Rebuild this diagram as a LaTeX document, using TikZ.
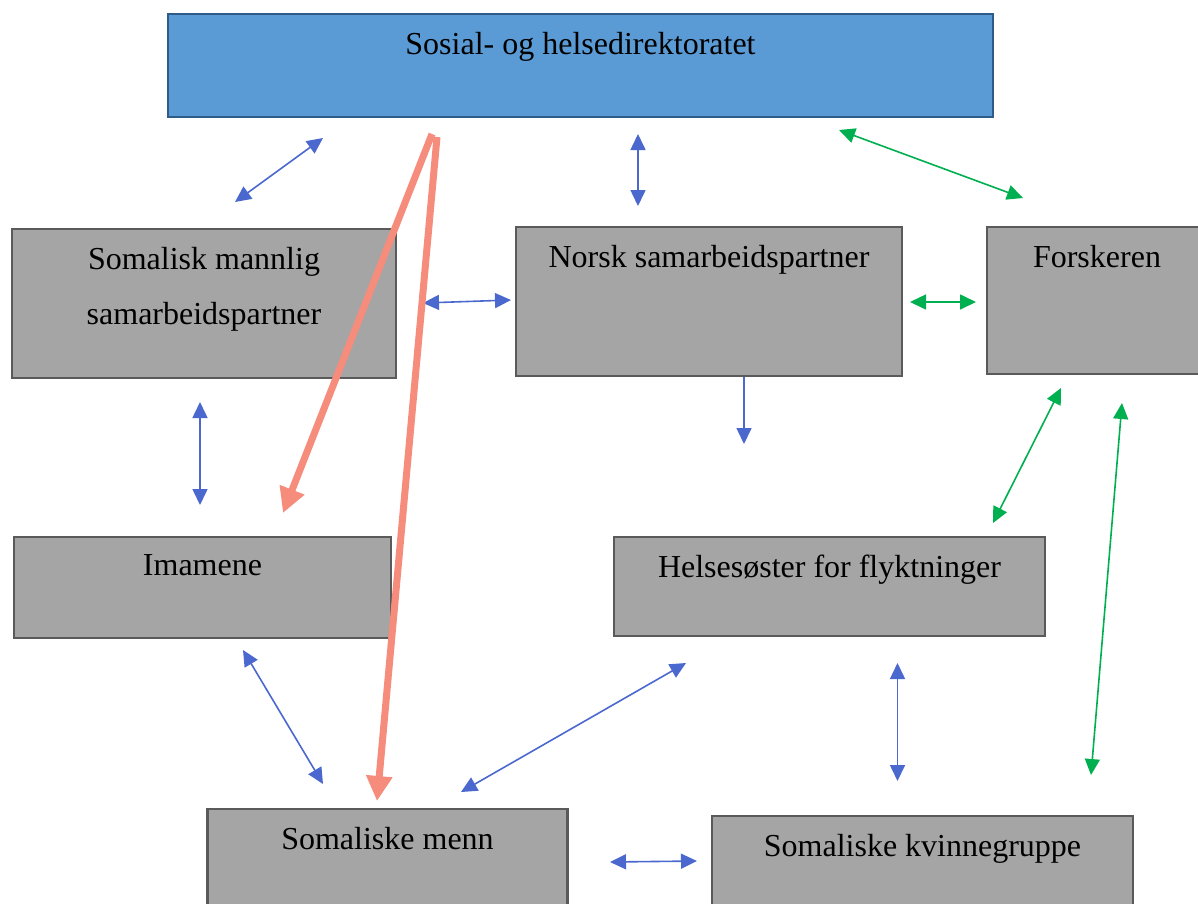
\documentclass[tikz,border=0pt]{standalone}
\usepackage{fontspec}
\setmainfont{Liberation Serif}
\usetikzlibrary{arrows.meta}

\definecolor{dirfyll}{HTML}{5B9BD5}
\definecolor{dirkant}{HTML}{2E5B88}
\definecolor{boksfyll}{HTML}{A5A5A5}
\definecolor{bokskant}{HTML}{5A5A5A}
\definecolor{blaa}{HTML}{4B68CE}
\definecolor{groenn}{HTML}{00B050}
\definecolor{laks}{HTML}{F58C7C}

\begin{document}
\begin{tikzpicture}[x=1pt, y=-1pt,
    boks/.style = {draw=bokskant, fill=boksfyll, line width=2.5pt, inner sep=0pt},
    tekst/.style = {anchor=north, yshift=-19pt, inner sep=0pt, align=center, font=\fontsize{32}{55}\selectfont},
    blaapil/.style = {{Triangle[length=16pt,width=15pt]}-{Triangle[length=16pt,width=15pt]}, draw=blaa, line width=1.6pt},
    blaaenkel/.style = {-{Triangle[length=16pt,width=15pt]}, draw=blaa, line width=1.6pt},
    groennpil/.style = {{Triangle[length=16pt,width=15pt]}-{Triangle[length=16pt,width=15pt]}, draw=groenn, line width=1.6pt},
    lakspil/.style = {-{Triangle[length=25pt,width=25pt]}, draw=laks, line width=7pt}]
    \useasboundingbox (0,0) rectangle (1198,903);
    % boksene
    \node[boks, draw=dirkant, fill=dirfyll, minimum width=825pt, minimum height=103pt,
        label={[tekst]north:Sosial- og helsedirektoratet}] (dir) at (580.5,65.5) {};
    \node[boks, minimum width=384pt, minimum height=149pt,
        label={[tekst]north:Somalisk mannlig\\samarbeidspartner}] (somsam) at (204,303.5) {};
    \node[boks, minimum width=386pt, minimum height=149pt,
        label={[tekst]north:Norsk samarbeidspartner}] (norsk) at (709,301.5) {};
    \node[boks, minimum width=220pt, minimum height=147pt,
        label={[tekst]north:Forskeren}] (forsker) at (1097,300.5) {};
    \node[boks, minimum width=377pt, minimum height=101pt,
        label={[tekst]north:Imamene}] (imam) at (202.5,587.5) {};
    \node[boks, minimum width=431pt, minimum height=99pt,
        label={[tekst]north:Helsesøster for flyktninger}] (helse) at (829.5,586.5) {};
    \node[boks, minimum width=360pt, minimum height=100pt,
        label={[tekst]north:Somaliske menn}] (menn) at (387.5,859) {};
    \node[boks, minimum width=421pt, minimum height=100pt,
        label={[tekst]north:Somaliske kvinnegruppe}] (kvinne) at (922.5,866) {};

    % endepunkter for pilene
    \coordinate (p1a) at (235,202);  \coordinate (p1b) at (323,138);
    \coordinate (p2a) at (638,134);  \coordinate (p2b) at (638,206);
    \coordinate (p3a) at (839,130);  \coordinate (p3b) at (1023,198);
    \coordinate (p4a) at (423,303);  \coordinate (p4b) at (511,300);
    \coordinate (p5a) at (910,302);  \coordinate (p5b) at (976,302);
    \coordinate (p6a) at (744,377);  \coordinate (p6b) at (744,444);
    \coordinate (p7a) at (200,402);  \coordinate (p7b) at (200,505);
    \coordinate (p8a) at (1061,388); \coordinate (p8b) at (993,523);
    \coordinate (p9a) at (1122,403); \coordinate (p9b) at (1091,775);
    \coordinate (p10a) at (243,650); \coordinate (p10b) at (323,784);
    \coordinate (p11a) at (686,663); \coordinate (p11b) at (461,792);
    \coordinate (p12a) at (897.5,663); \coordinate (p12b) at (897.5,781);
    \coordinate (p13a) at (610,862); \coordinate (p13b) at (697,861);
    \coordinate (l1) at (432,134);   \coordinate (l1b) at (283,513);
    \coordinate (l2) at (437,137);   \coordinate (l2b) at (377,801);

    % pilene
    \draw[blaapil] (p1a) -- (p1b);
    \draw[blaapil] (p2a) -- (p2b);
    \draw[groennpil] (p3a) -- (p3b);
    \draw[blaapil] (p4a) -- (p4b);
    \draw[groennpil] (p5a) -- (p5b);
    \draw[blaaenkel] (p6a) -- (p6b);
    \draw[blaapil] (p7a) -- (p7b);
    \draw[groennpil] (p8a) -- (p8b);
    \draw[groennpil] (p9a) -- (p9b);
    \draw[blaapil] (p10a) -- (p10b);
    \draw[blaapil] (p11a) -- (p11b);
    \draw[blaapil] (p12a) -- (p12b);
    \draw[blaapil] (p13a) -- (p13b);
    \draw[lakspil] (l1) -- (l1b);
    \draw[lakspil] (l2) -- (l2b);
\end{tikzpicture}
\end{document}
